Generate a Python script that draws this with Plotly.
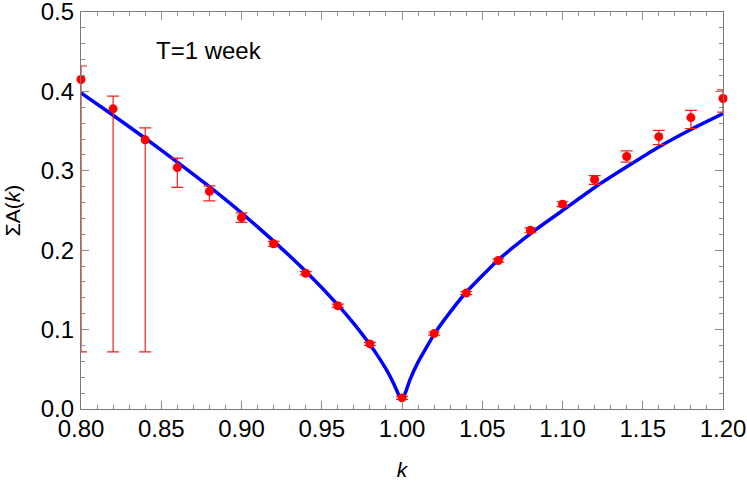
import plotly.graph_objects as go

# Measured points
k_pts = [0.80, 0.82, 0.84, 0.86, 0.88, 0.90, 0.92, 0.94, 0.96, 0.98, 1.00,
         1.02, 1.04, 1.06, 1.08, 1.10, 1.12, 1.14, 1.16, 1.18, 1.20]
a_pts = [0.415, 0.378, 0.339, 0.304, 0.274, 0.241, 0.208, 0.171, 0.130, 0.082, 0.014,
         0.095, 0.146, 0.187, 0.225, 0.258, 0.289, 0.318, 0.343, 0.367, 0.391]
err_hi = [0.017, 0.016, 0.015, 0.012, 0.007, 0.006, 0.003, 0.002, 0.002, 0.002, 0.002,
          0.002, 0.002, 0.002, 0.003, 0.003, 0.005, 0.007, 0.008, 0.009, 0.011]
err_lo = [0.343, 0.306, 0.267, 0.025, 0.012, 0.006, 0.003, 0.002, 0.002, 0.002, 0.002,
          0.002, 0.002, 0.002, 0.003, 0.003, 0.006, 0.007, 0.010, 0.014, 0.017]

# Fitted curve
k_fit = [0.80, 0.82, 0.84, 0.86, 0.88, 0.90, 0.92, 0.94, 0.96, 0.97, 0.98, 0.985,
         0.99, 0.995, 0.998, 1.000, 1.002, 1.005, 1.01, 1.02, 1.03, 1.04, 1.06,
         1.08, 1.10, 1.12, 1.14, 1.16, 1.18, 1.20]
a_fit = [0.398, 0.370, 0.341, 0.311, 0.280, 0.247, 0.2115, 0.1734, 0.1311, 0.1075, 0.0812, 0.0666,
         0.0504, 0.0312, 0.0175, 0.011, 0.020, 0.037, 0.059, 0.094, 0.122, 0.147, 0.188,
         0.221, 0.250, 0.279, 0.305, 0.330, 0.352, 0.372]

x_ticks = [0.80, 0.85, 0.90, 0.95, 1.00, 1.05, 1.10, 1.15, 1.20]
y_ticks = [0.0, 0.1, 0.2, 0.3, 0.4, 0.5]

FONT = "Liberation Sans, Arial, sans-serif"

fig = go.Figure()
fig.add_trace(go.Scatter(
    x=k_fit, y=a_fit, mode="lines",
    line=dict(color="#0000ff", width=3.5, shape="spline", smoothing=0.4),
    hoverinfo="skip", cliponaxis=False))
fig.add_trace(go.Scatter(
    x=k_pts, y=a_pts, mode="markers",
    marker=dict(color="#ff0000", size=9),
    error_y=dict(type="data", symmetric=False, array=err_hi, arrayminus=err_lo,
                 color="#f02020", thickness=1.2, width=6),
    cliponaxis=False))

axis_common = dict(
    showgrid=False, zeroline=False, showline=True, linecolor="#7a7a7a", linewidth=1.2,
    mirror="allticks", ticks="inside", ticklen=8, tickcolor="#8a8a8a", tickwidth=1,
    tickfont=dict(family=FONT, size=24, color="black"), automargin=False,
    ticklabeloverflow="allow",
)

fig.update_xaxes(range=[0.8, 1.2], tickvals=x_ticks, tickformat=".2f",
                 ticklabelstandoff=-2,
                 minor=dict(dtick=0.01, tick0=0.8, ticks="inside", ticklen=4, tickcolor="#8a8a8a"),
                 title=dict(text="<i>k</i>", font=dict(family=FONT, size=21, color="black"), standoff=24),
                 **axis_common)
fig.update_yaxes(range=[0.0, 0.5], tickvals=y_ticks, tickformat=".1f",
                 ticklabelstandoff=1,
                 minor=dict(dtick=0.02, tick0=0.0, ticks="inside", ticklen=4, tickcolor="#8a8a8a"),
                 title=dict(text="ΣA(<i>k</i>)", font=dict(family=FONT, size=21, color="black"), standoff=14),
                 **axis_common)

fig.add_annotation(x=0.88, y=0.451, xref="x", yref="y", text="T=1 week", showarrow=False,
                   font=dict(family=FONT, size=24, color="black"))

fig.update_layout(
    width=747, height=481,
    margin=dict(l=81, r=24, t=12, b=72),
    plot_bgcolor="white", paper_bgcolor="white",
    showlegend=False,
)

fig.write_html("out.html", config={"displayModeBar": False},
               post_script="document.body.style.margin='0';")
